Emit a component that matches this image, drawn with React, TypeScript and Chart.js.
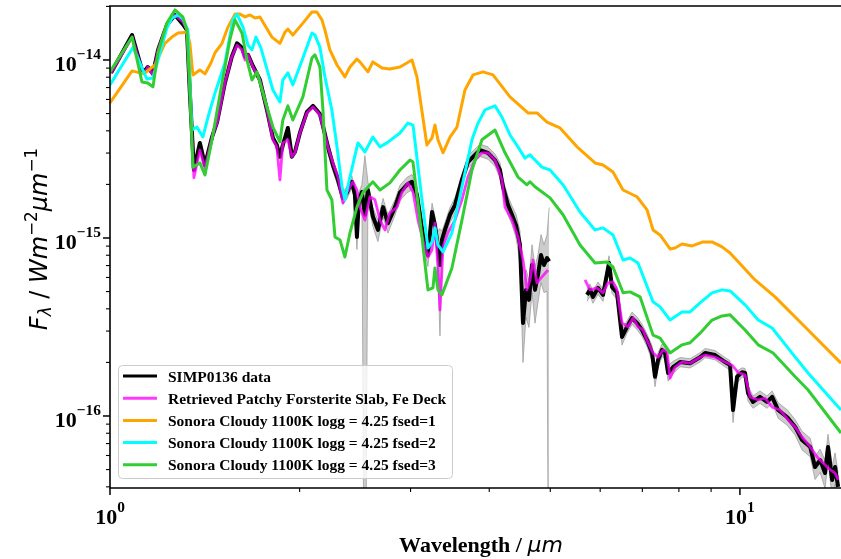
import React, { useEffect, useRef } from "react";
import { Chart, registerables } from "chart.js";

Chart.register(...registerables);

// ---------- axis ranges & labels ----------
const X_MIN = 1.0;
const X_MAX = 14.47;
const Y_MIN = 3.94e-17;
const Y_MAX = 2.01e-14;
const X_DECADES = [0, 1];
const Y_DECADES = [-14, -15, -16];
const MINOR_MULTS = [2, 3, 4, 5, 6, 7, 8, 9];

const SERIES_LABELS = [
  "SIMP0136 data",
  "Retrieved Patchy Forsterite Slab, Fe Deck",
  "Sonora Cloudy 1100K logg = 4.25 fsed=1",
  "Sonora Cloudy 1100K logg = 4.25 fsed=2",
  "Sonora Cloudy 1100K logg = 4.25 fsed=3",
];
const SERIES_COLORS = ["#000000", "rgba(255,0,255,0.78)", "#ffa500", "#00ffff", "#32cd32"];
const X_TITLE = "Wavelength / ";
const X_TITLE_UNIT = "μm";

// ---------- SIMP0136 data (wavelength µm, flux W m^-2 µm^-1, relative error) ----------
const dataWave = [
  1.004, 1.084, 1.124, 1.136, 1.148, 1.170, 1.192, 1.231, 1.268, 1.305,
  1.325, 1.339, 1.359, 1.389, 1.415, 1.452, 1.479, 1.522, 1.561, 1.591,
  1.620, 1.638, 1.656, 1.686, 1.730, 1.775, 1.814, 1.840, 1.861, 1.881,
  1.916, 1.944, 1.966, 2.002, 2.054, 2.100, 2.154, 2.178, 2.218, 2.259,
  2.301, 2.343, 2.377, 2.421, 2.448, 2.466, 2.484, 2.511, 2.539, 2.567,
  2.614, 2.663, 2.713, 2.762, 2.834, 2.886, 2.960, 3.016, 3.071, 3.105,
  3.139, 3.197, 3.245, 3.280, 3.304, 3.341, 3.365, 3.402, 3.465, 3.529,
  3.620, 3.700, 3.797, 3.867, 3.981, 4.085, 4.160, 4.206, 4.284, 4.347,
  4.411, 4.476, 4.525, 4.575, 4.625, 4.677, 4.728, 4.780, 4.833, 4.886,
  4.940, 4.980, 5.300, 5.718, 5.781, 5.845, 5.953, 6.063, 6.197, 6.265,
  6.381, 6.499, 6.619, 6.741, 6.865, 6.992, 7.121, 7.253, 7.332, 7.413,
  7.523, 7.606, 7.690, 7.831, 8.035, 8.334, 8.644, 8.804, 9.131, 9.471,
  9.646, 9.752, 9.896, 10.08, 10.19, 10.30, 10.49, 10.76, 11.04, 11.25,
  11.50, 11.89, 12.24, 12.55, 12.93, 13.16, 13.41, 13.65, 13.80, 14.01,
  14.16, 14.32,
];
const dataFlux: (number | null)[] = [
  8.46e-15, 1.38e-14, 8.79e-15, 8.68e-15, 9.13e-15, 8.35e-15, 1.14e-14, 1.57e-14, 1.79e-14, 1.59e-14,
  1.47e-14, 6.53e-15, 2.41e-15, 3.42e-15, 2.57e-15, 3.69e-15, 4.48e-15, 7.43e-15, 1.043e-14, 1.24e-14,
  1.17e-14, 1.043e-14, 1.07e-14, 9.25e-15, 7.72e-15, 5.24e-15, 3.65e-15, 3.33e-15, 2.86e-15, 3.33e-15,
  4.15e-15, 2.86e-15, 3.04e-15, 3.89e-15, 5.11e-15, 5.52e-15, 4.97e-15, 4.26e-15, 3.25e-15, 2.57e-15,
  2.12e-15, 1.68e-15, 1.80e-15, 2.07e-15, 1.75e-15, 1.013e-15, 1.64e-15, 1.81e-15, 1.35e-15, 1.86e-15,
  1.32e-15, 1.11e-15, 1.49e-15, 1.21e-15, 1.49e-15, 1.80e-15, 1.99e-15, 2.07e-15, 1.75e-15, 1.35e-15,
  1.04e-15, 8.03e-16, 1.40e-15, 1.18e-15, 9.75e-16, 7.05e-16, 9.75e-16, 1.11e-15, 1.35e-15, 1.53e-15,
  2.12e-15, 2.67e-15, 2.93e-15, 3.12e-15, 3.01e-15, 2.74e-15, 2.41e-15, 1.94e-15, 1.53e-15, 1.35e-15,
  1.18e-15, 9.14e-16, 3.33e-16, 5.11e-16, 4.49e-16, 7.05e-16, 5.11e-16, 6.20e-16, 8.03e-16, 7.05e-16,
  7.72e-16, 7.40e-16, null, 4.79e-16, 5.11e-16, 4.67e-16, 5.24e-16, 4.79e-16, 7.23e-16, 5.31e-16,
  4.92e-16, 2.78e-16, 3.17e-16, 3.55e-16, 3.33e-16, 3.04e-16, 2.67e-16, 2.26e-16, 1.66e-16, 2.06e-16,
  2.35e-16, 2.26e-16, 1.745e-16, 1.88e-16, 2.01e-16, 1.98e-16, 2.14e-16, 2.26e-16, 2.20e-16, 2.01e-16,
  1.93e-16, 1.08e-16, 1.66e-16, 1.76e-16, 1.745e-16, 1.345e-16, 1.20e-16, 1.28e-16, 1.20e-16, 1.28e-16,
  1.08e-16, 9.84e-17, 8.67e-17, 7.33e-17, 6.70e-17, 5.17e-17, 5.66e-17, 4.78e-17, 6.70e-17, 4.37e-17,
  5.17e-17, 4.00e-17,
];
const dataRelErr = [
  0.02, 0.02, 0.02, 0.02, 0.02, 0.02, 0.02, 0.02, 0.02, 0.02,
  0.02, 0.02, 0.02, 0.02, 0.02, 0.02, 0.02, 0.02, 0.02, 0.02,
  0.02, 0.02, 0.02, 0.02, 0.02, 0.02, 0.02, 0.02, 0.02, 0.02,
  0.02, 0.02, 0.02, 0.02, 0.02, 0.02, 0.02, 0.02, 0.08, 0.08,
  0.08, 0.08, 0.08, 0.08, 0.08, 0.15, 0.10, 0.10, 1.15, 0.12,
  0.12, 0.14, 0.12, 0.12, 0.10, 0.10, 0.10, 0.10, 0.12, 0.12,
  0.12, 0.14, 0.12, 0.12, 0.12, 0.60, 0.12, 0.10, 0.10, 0.10,
  0.08, 0.08, 0.08, 0.08, 0.08, 0.08, 0.10, 0.10, 0.12, 0.12,
  0.15, 0.20, 0.40, 0.30, 0.30, 0.30, 0.35, 0.30, 0.30, 0.30,
  0.35, 1.00, 0.00, 0.08, 0.08, 0.08, 0.08, 0.08, 0.10, 0.08,
  0.08, 0.10, 0.08, 0.08, 0.08, 0.08, 0.08, 0.10, 0.12, 0.10,
  0.08, 0.08, 0.10, 0.08, 0.06, 0.06, 0.06, 0.06, 0.06, 0.06,
  0.06, 0.15, 0.08, 0.06, 0.06, 0.10, 0.08, 0.08, 0.08, 0.08,
  0.10, 0.10, 0.10, 0.12, 0.12, 0.15, 0.15, 0.18, 0.18, 0.20,
  0.20, 0.20,
];

// ---------- Retrieved model ----------
const modelWave = [
  1.004, 1.084, 1.124, 1.136, 1.148, 1.170, 1.192, 1.231, 1.268, 1.305,
  1.325, 1.339, 1.359, 1.389, 1.415, 1.452, 1.479, 1.522, 1.561, 1.591,
  1.620, 1.638, 1.656, 1.686, 1.730, 1.775, 1.814, 1.840, 1.861, 1.881,
  1.916, 1.944, 1.966, 2.002, 2.054, 2.100, 2.154, 2.178, 2.218, 2.259,
  2.301, 2.343, 2.377, 2.404, 2.430, 2.466, 2.493, 2.539, 2.586, 2.634,
  2.683, 2.732, 2.782, 2.855, 2.907, 2.971, 3.027, 3.083, 3.139, 3.197,
  3.245, 3.280, 3.316, 3.341, 3.378, 3.439, 3.529, 3.620, 3.700, 3.797,
  3.895, 3.981, 4.085, 4.190, 4.237, 4.347, 4.443, 4.525, 4.591, 4.643,
  4.694, 4.763, 4.850, 4.958, 5.300, 5.677, 5.781, 5.931, 6.063, 6.174,
  6.288, 6.381, 6.499, 6.643, 6.766, 6.890, 7.017, 7.147, 7.279, 7.413,
  7.550, 7.662, 7.746, 7.889, 8.094, 8.334, 8.644, 8.804, 9.131, 9.471,
  9.716, 9.932, 10.19, 10.38, 10.69, 10.96, 11.25, 11.58, 11.93, 12.24,
  12.55, 12.93, 13.26, 13.56, 13.80, 14.16, 14.32,
];
const modelFlux: (number | null)[] = [
  8.46e-15, 1.345e-14, 8.79e-15, 8.46e-15, 9.13e-15, 8.24e-15, 1.14e-14, 1.57e-14, 1.79e-14, 1.64e-14,
  1.47e-14, 6.53e-15, 2.18e-15, 3.12e-15, 2.47e-15, 3.69e-15, 4.42e-15, 7.43e-15, 1.043e-14, 1.21e-14,
  1.14e-14, 1.0e-14, 1.07e-14, 9.13e-15, 7.72e-15, 5.24e-15, 3.56e-15, 3.25e-15, 2.12e-15, 3.42e-15,
  3.56e-15, 2.86e-15, 3.01e-15, 3.89e-15, 5.04e-15, 5.45e-15, 4.91e-15, 4.20e-15, 3.25e-15, 2.64e-15,
  2.20e-15, 1.57e-15, 1.80e-15, 1.94e-15, 2.07e-15, 1.86e-15, 1.49e-15, 1.26e-15, 1.705e-15, 1.64e-15,
  1.26e-15, 1.11e-15, 1.385e-15, 1.49e-15, 1.80e-15, 2.04e-15, 1.81e-15, 1.26e-15, 9.75e-16, 7.82e-16,
  8.57e-16, 1.21e-15, 6.87e-16, 3.94e-16, 8.91e-16, 1.067e-15, 1.26e-15, 1.64e-15, 2.20e-15, 2.74e-15,
  3.01e-15, 3.01e-15, 2.74e-15, 2.12e-15, 1.49e-15, 1.26e-15, 1.013e-15, 7.52e-16, 5.11e-16, 5.81e-16,
  7.52e-16, 5.59e-16, 6.04e-16, 6.61e-16, null, 5.81e-16, 5.11e-16, 5.24e-16, 4.92e-16, 5.59e-16,
  5.66e-16, 5.11e-16, 3.33e-16, 3.17e-16, 3.55e-16, 3.17e-16, 3.04e-16, 2.58e-16, 2.26e-16, 2.14e-16,
  2.35e-16, 2.29e-16, 1.63e-16, 1.88e-16, 2.01e-16, 1.98e-16, 2.14e-16, 2.20e-16, 2.14e-16, 2.01e-16,
  1.93e-16, 1.76e-16, 1.70e-16, 1.28e-16, 1.23e-16, 1.26e-16, 1.12e-16, 1.08e-16, 9.50e-17, 8.67e-17,
  7.62e-17, 6.70e-17, 5.89e-17, 5.45e-17, 5.10e-17, 4.78e-17, 4.37e-17,
];

// ---------- Sonora Cloudy fsed=1 ----------
const fsed1Wave = [
  1.000, 1.084, 1.132, 1.157, 1.179, 1.222, 1.254, 1.282, 1.325, 1.339,
  1.354, 1.389, 1.415, 1.446, 1.468, 1.506, 1.539, 1.579, 1.608, 1.638,
  1.668, 1.699, 1.730, 1.807, 1.861, 1.895, 1.916, 1.951, 2.024, 2.092,
  2.130, 2.170, 2.194, 2.234, 2.293, 2.360, 2.404, 2.466, 2.493, 2.567,
  2.614, 2.703, 2.782, 2.886, 3.016, 3.071, 3.185, 3.245, 3.280, 3.316,
  3.378, 3.465, 3.555, 3.660, 3.769, 3.910, 4.055, 4.315, 4.608, 4.763,
  4.940, 5.181, 5.513, 5.888, 6.063, 6.288, 6.523, 6.865, 7.121, 7.279,
  7.468, 7.746, 7.889, 8.094, 8.395, 8.739, 9.031, 9.368, 9.646, 10.57,
  11.37, 12.83, 14.47,
];
const fsed1Flux = [
  5.73e-15, 8.68e-15, 8.35e-15, 8.90e-15, 9.37e-15, 1.24e-14, 1.345e-14, 1.416e-14, 1.43e-14, 1.24e-14,
  8.24e-15, 8.79e-15, 8.35e-15, 9.62e-15, 1.098e-14, 1.24e-14, 1.53e-14, 1.81e-14, 1.81e-14, 1.745e-14,
  1.79e-14, 1.72e-14, 1.745e-14, 1.345e-14, 1.24e-14, 1.43e-14, 1.49e-14, 1.38e-14, 1.61e-14, 1.86e-14,
  1.86e-14, 1.68e-14, 1.47e-14, 1.14e-14, 9.37e-15, 8.03e-15, 9.13e-15, 1.013e-14, 9.75e-15, 8.57e-15,
  9.75e-15, 9.02e-15, 8.90e-15, 9.13e-15, 1.0e-14, 8.03e-15, 3.33e-15, 3.65e-15, 4.31e-15, 3.56e-15,
  3.01e-15, 3.69e-15, 4.20e-15, 6.78e-15, 8.24e-15, 8.57e-15, 8.24e-15, 6.20e-15, 5.04e-15, 5.04e-15,
  4.48e-15, 4.15e-15, 3.25e-15, 2.64e-15, 2.57e-15, 2.35e-15, 1.86e-15, 1.705e-15, 1.44e-15, 1.11e-15,
  1.04e-15, 8.68e-16, 8.79e-16, 9.26e-16, 9.02e-16, 9.50e-16, 9.50e-16, 8.91e-16, 8.24e-16, 5.81e-16,
  4.67e-16, 3.04e-16, 1.98e-16,
];

// ---------- Sonora Cloudy fsed=2 ----------
const fsed2Wave = [
  1.000, 1.088, 1.144, 1.170, 1.231, 1.254, 1.282, 1.305, 1.329, 1.349,
  1.374, 1.404, 1.431, 1.468, 1.522, 1.567, 1.591, 1.626, 1.656, 1.680,
  1.705, 1.736, 1.814, 1.861, 1.881, 1.916, 1.951, 2.024, 2.092, 2.115,
  2.154, 2.194, 2.250, 2.293, 2.335, 2.360, 2.404, 2.475, 2.539, 2.614,
  2.683, 2.752, 2.886, 2.971, 3.027, 3.128, 3.197, 3.245, 3.280, 3.316,
  3.378, 3.490, 3.620, 3.755, 3.839, 3.938, 4.085, 4.190, 4.315, 4.443,
  4.558, 4.643, 4.728, 4.850, 4.995, 5.238, 5.574, 5.888, 6.063, 6.288,
  6.523, 6.692, 6.890, 7.279, 7.468, 7.746, 8.094, 8.334, 8.644, 9.031,
  9.368, 9.646, 10.19, 10.69, 11.25, 12.24, 12.83, 14.47,
];
const fsed2Flux = [
  7.24e-15, 1.18e-14, 7.82e-15, 7.92e-15, 1.51e-14, 1.72e-14, 1.79e-14, 1.70e-14, 1.47e-14, 4.04e-15,
  4.20e-15, 3.69e-15, 4.78e-15, 6.53e-15, 9.62e-15, 1.68e-14, 1.81e-14, 1.53e-14, 1.21e-14, 1.14e-14,
  1.345e-14, 1.17e-14, 6.78e-15, 5.81e-15, 7.72e-15, 8.46e-15, 7.24e-15, 1.026e-14, 1.416e-14, 1.38e-14,
  1.18e-14, 8.03e-15, 5.24e-15, 3.25e-15, 1.94e-15, 1.64e-15, 2.20e-15, 3.42e-15, 3.04e-15, 3.69e-15,
  3.25e-15, 3.42e-15, 3.89e-15, 4.42e-15, 4.31e-15, 1.64e-15, 8.79e-16, 9.50e-16, 1.14e-15, 9.14e-16,
  8.35e-16, 1.067e-15, 1.94e-15, 3.56e-15, 4.42e-15, 5.24e-15, 5.52e-15, 4.78e-15, 3.79e-15, 3.25e-15,
  2.81e-15, 2.93e-15, 2.74e-15, 2.50e-15, 2.41e-15, 1.99e-15, 1.40e-15, 1.11e-15, 1.14e-15, 1.04e-15,
  7.52e-16, 7.72e-16, 7.23e-16, 4.38e-16, 4.10e-16, 3.46e-16, 3.84e-16, 3.84e-16, 4.32e-16, 4.92e-16,
  5.11e-16, 5.04e-16, 4.21e-16, 3.46e-16, 3.12e-16, 2.14e-16, 1.745e-16, 1.08e-16,
];

// ---------- Sonora Cloudy fsed=3 ----------
const fsed3Wave = [
  1.000, 1.084, 1.124, 1.148, 1.170, 1.192, 1.231, 1.268, 1.305, 1.325,
  1.339, 1.354, 1.389, 1.415, 1.452, 1.506, 1.550, 1.579, 1.620, 1.650,
  1.680, 1.711, 1.762, 1.814, 1.861, 1.881, 1.916, 1.951, 2.024, 2.092,
  2.115, 2.154, 2.178, 2.210, 2.250, 2.276, 2.318, 2.360, 2.404, 2.466,
  2.521, 2.614, 2.683, 2.782, 2.886, 2.994, 3.027, 3.128, 3.197, 3.256,
  3.280, 3.316, 3.365, 3.490, 3.620, 3.755, 3.895, 4.085, 4.237, 4.443,
  4.591, 4.643, 4.728, 4.995, 5.238, 5.574, 5.888, 6.152, 6.288, 6.523,
  6.692, 6.941, 7.279, 7.468, 7.746, 8.094, 8.334, 8.644, 9.031, 9.368,
  9.646, 10.19, 10.69, 11.29, 12.24, 12.83, 14.47,
];
const fsed3Flux = [
  8.57e-15, 1.345e-14, 7.52e-15, 7.43e-15, 7.06e-15, 1.098e-14, 1.61e-14, 1.91e-14, 1.745e-14, 1.47e-14,
  6.78e-15, 2.50e-15, 2.64e-15, 2.26e-15, 3.56e-15, 7.43e-15, 1.30e-14, 1.68e-14, 1.416e-14, 1.0e-14,
  7.72e-15, 8.57e-15, 5.96e-15, 4.20e-15, 3.47e-15, 4.60e-15, 5.52e-15, 4.60e-15, 6.20e-15, 1.026e-14,
  1.07e-14, 9.13e-15, 5.24e-15, 1.86e-15, 1.64e-15, 1.013e-15, 9.75e-16, 7.82e-16, 1.067e-15, 1.49e-15,
  1.80e-15, 2.07e-15, 1.86e-15, 2.04e-15, 2.41e-15, 2.74e-15, 2.67e-15, 1.013e-15, 5.11e-16, 5.24e-16,
  6.78e-16, 5.11e-16, 4.79e-16, 6.78e-16, 1.26e-15, 2.41e-15, 3.56e-15, 4.04e-15, 3.01e-15, 2.20e-15,
  1.99e-15, 2.07e-15, 1.94e-15, 1.68e-15, 1.35e-15, 9.14e-16, 7.23e-16, 7.33e-16, 6.87e-16, 4.92e-16,
  4.98e-16, 4.67e-16, 2.85e-16, 2.74e-16, 2.26e-16, 2.51e-16, 2.58e-16, 2.92e-16, 3.46e-16, 3.65e-16,
  3.70e-16, 3.04e-16, 2.51e-16, 2.26e-16, 1.66e-16, 1.40e-16, 8.02e-17,
];

// ---------- drawing helpers ----------
const SERIF = '"Liberation Serif", "Times New Roman", serif';
const SANS = '"DejaVu Sans", sans-serif';

function drawPow(ctx: CanvasRenderingContext2D, expStr: string, x: number, baseline: number, align: "right" | "center") {
  const mainPx = 22;
  const supPx = 15.4;
  const raise = 12;
  ctx.font = `bold ${mainPx}px ${SERIF}`;
  const w1 = ctx.measureText("10").width;
  ctx.font = `bold ${supPx}px ${SERIF}`;
  const w2 = ctx.measureText(expStr).width;
  const total = w1 + w2;
  const x0 = align === "right" ? x - total : x - total / 2;
  ctx.textAlign = "left";
  ctx.textBaseline = "alphabetic";
  ctx.font = `bold ${mainPx}px ${SERIF}`;
  ctx.fillText("10", x0, baseline);
  ctx.font = `bold ${supPx}px ${SERIF}`;
  ctx.fillText(expStr, x0 + w1, baseline - raise);
}

const expText = (e: number) => (e < 0 ? "\u2212" + String(-e) : String(e));

const decorPlugin = {
  id: "decor",
  afterDraw(chart: any) {
    const ctx: CanvasRenderingContext2D = chart.ctx;
    const a = chart.chartArea;
    const xs = chart.scales.x;
    const ys = chart.scales.y;
    ctx.save();
    ctx.strokeStyle = "#000";
    ctx.fillStyle = "#000";
    ctx.lineCap = "butt";
    const line = (x1: number, y1: number, x2: number, y2: number, w: number) => {
      ctx.lineWidth = w;
      ctx.beginPath();
      ctx.moveTo(x1, y1);
      ctx.lineTo(x2, y2);
      ctx.stroke();
    };
    // x ticks
    for (let k = -1; k <= 2; k++) {
      [1, ...MINOR_MULTS].forEach((m) => {
        const v = m * Math.pow(10, k);
        if (v < X_MIN * 0.9999 || v > X_MAX * 1.0001) return;
        const px = xs.getPixelForValue(v);
        line(px, a.bottom, px, a.bottom + (m === 1 ? 7 : 4), m === 1 ? 1.5 : 1.1);
      });
    }
    // y ticks
    for (let k = -18; k <= -12; k++) {
      [1, ...MINOR_MULTS].forEach((m) => {
        const v = m * Math.pow(10, k);
        if (v < Y_MIN * 0.9999 || v > Y_MAX * 1.0001) return;
        const py = ys.getPixelForValue(v);
        line(a.left, py, a.left - (m === 1 ? 7 : 4), py, m === 1 ? 1.5 : 1.1);
      });
    }
    // spines (right spine lies beyond the canvas)
    ctx.lineWidth = 1.6;
    ctx.lineJoin = "miter";
    ctx.beginPath();
    ctx.moveTo(a.right + 3, a.top);
    ctx.lineTo(a.left, a.top);
    ctx.lineTo(a.left, a.bottom);
    ctx.lineTo(a.right + 3, a.bottom);
    ctx.stroke();

    // tick labels
    Y_DECADES.forEach((e) => {
      const py = ys.getPixelForValue(Math.pow(10, e));
      drawPow(ctx, expText(e), a.left - 9, py + 11, "right");
    });
    X_DECADES.forEach((e) => {
      const px = xs.getPixelForValue(Math.pow(10, e));
      drawPow(ctx, expText(e), px, a.bottom + 36, "center");
    });

    // x title
    ctx.textBaseline = "alphabetic";
    ctx.textAlign = "left";
    const f1 = `bold 22px ${SERIF}`;
    const f2 = `italic 22px ${SANS}`;
    ctx.font = f1;
    const tw1 = ctx.measureText(X_TITLE).width;
    ctx.font = f2;
    const tw2 = ctx.measureText(X_TITLE_UNIT).width;
    const cx = 481;
    const xStart = cx - (tw1 + tw2) / 2;
    ctx.font = f1;
    ctx.fillText(X_TITLE, xStart, 552);
    ctx.font = f2;
    ctx.fillText(X_TITLE_UNIT, xStart + tw1, 552);

    // y title (mathtext-like)
    const parts = [
      { t: "F", f: `italic 24px ${SANS}`, dy: 0 },
      { t: "\u03bb", f: `italic 16.8px ${SANS}`, dy: 4 },
      { t: " / ", f: `24px ${SANS}`, dy: 0 },
      { t: "Wm", f: `italic 24px ${SANS}`, dy: 0 },
      { t: "\u22122", f: `16.8px ${SANS}`, dy: -10 },
      { t: "\u03bcm", f: `italic 24px ${SANS}`, dy: 0 },
      { t: "\u22121", f: `16.8px ${SANS}`, dy: -10 },
    ];
    let total = 0;
    const widths = parts.map((p) => {
      ctx.font = p.f;
      const w = ctx.measureText(p.t).width;
      total += w;
      return w;
    });
    ctx.save();
    ctx.translate(47, (a.top + a.bottom) / 2 - 8);
    ctx.rotate(-Math.PI / 2);
    let xx = -total / 2;
    parts.forEach((p, i) => {
      ctx.font = p.f;
      ctx.fillText(p.t, xx, p.dy);
      xx += widths[i];
    });
    ctx.restore();

    // legend
    const lx = 118, ly = 365, lw = 334, lh = 113;
    ctx.beginPath();
    (ctx as any).roundRect(lx + 0.5, ly + 0.5, lw, lh, 4);
    ctx.fillStyle = "rgba(255,255,255,0.8)";
    ctx.fill();
    ctx.strokeStyle = "#cccccc";
    ctx.lineWidth = 1;
    ctx.stroke();
    ctx.font = `bold 15.5px ${SERIF}`;
    SERIES_LABELS.forEach((lab, i) => {
      const cy = 376 + i * 22.2;
      ctx.strokeStyle = SERIES_COLORS[i];
      ctx.lineWidth = 3;
      ctx.beginPath();
      ctx.moveTo(123, cy);
      ctx.lineTo(157, cy);
      ctx.stroke();
      ctx.fillStyle = "#000";
      ctx.fillText(lab, 168, cy + 5.5);
    });
    ctx.restore();
  },
};

export default function App() {
  const ref = useRef<HTMLCanvasElement | null>(null);
  useEffect(() => {
    document.body.style.margin = "0";
    const canvas = ref.current;
    if (!canvas) return;
    const pts = (w: number[], f: (number | null)[]) => w.map((x, i) => ({ x, y: f[i] }));
    const upper = dataFlux.map((f, i) => (f == null ? null : f * (1 + dataRelErr[i])));
    const lower = dataFlux.map((f, i) =>
      f == null ? null : dataRelErr[i] >= 1 ? f * 1e-3 : f * (1 - dataRelErr[i])
    );
    const common = { pointRadius: 0, pointHoverRadius: 0, tension: 0, fill: false, clip: 0, borderJoinStyle: "round" as const };
    const chart = new Chart(canvas, {
      type: "line",
      data: {
        datasets: [
          { ...common, label: "err+", data: pts(dataWave, upper), borderColor: "rgba(128,128,128,0.55)", borderWidth: 1, order: 10 },
          {
            ...common, label: "err-", data: pts(dataWave, lower), borderColor: "rgba(128,128,128,0.55)", borderWidth: 1,
            backgroundColor: "rgba(128,128,128,0.4)", fill: "-1", order: 9,
          },
          { ...common, label: SERIES_LABELS[0], data: pts(dataWave, dataFlux), borderColor: SERIES_COLORS[0], borderWidth: 4, order: 5 },
          { ...common, label: SERIES_LABELS[1], data: pts(modelWave, modelFlux), borderColor: SERIES_COLORS[1], borderWidth: 2.8, order: 4 },
          { ...common, label: SERIES_LABELS[2], data: pts(fsed1Wave, fsed1Flux), borderColor: SERIES_COLORS[2], borderWidth: 3, order: 3 },
          { ...common, label: SERIES_LABELS[3], data: pts(fsed2Wave, fsed2Flux), borderColor: SERIES_COLORS[3], borderWidth: 3, order: 2 },
          { ...common, label: SERIES_LABELS[4], data: pts(fsed3Wave, fsed3Flux), borderColor: SERIES_COLORS[4], borderWidth: 3, order: 1 },
        ] as any,
      },
      options: {
        animation: false,
        responsive: false,
        devicePixelRatio: 1,
        events: [],
        layout: { padding: { left: 110, top: 6, right: 0, bottom: 71 } },
        plugins: { legend: { display: false }, tooltip: { enabled: false } },
        scales: {
          x: { type: "logarithmic", min: X_MIN, max: X_MAX, display: false, bounds: "data" },
          y: { type: "logarithmic", min: Y_MIN, max: Y_MAX, display: false, bounds: "data" },
        },
      } as any,
      plugins: [decorPlugin],
    });
    return () => chart.destroy();
  }, []);
  return (
    <div style={{ position: "absolute", left: 0, top: 0, width: 841, height: 559, background: "#fff" }}>
      <canvas ref={ref} width={841} height={559} style={{ display: "block", width: 841, height: 559 }} />
    </div>
  );
}
